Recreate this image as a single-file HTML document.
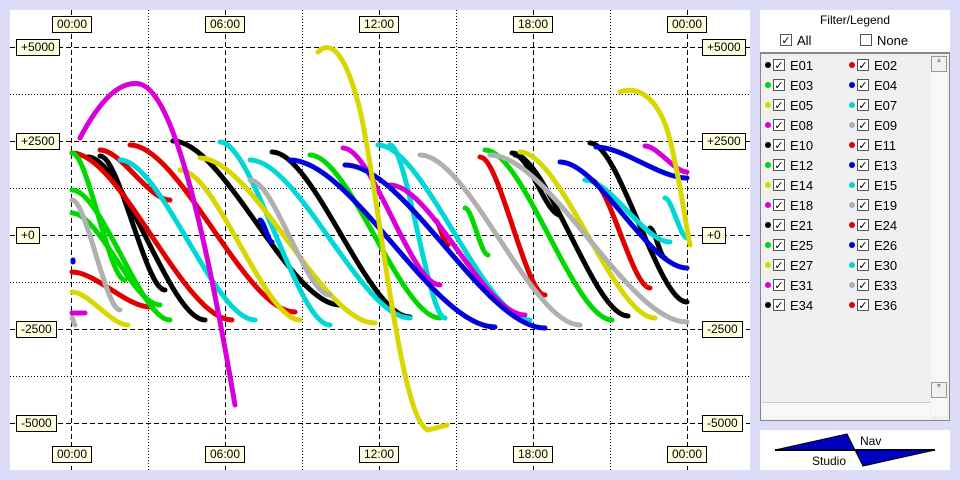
<!DOCTYPE html>
<html><head><meta charset="utf-8"><style>
body{margin:0;width:960px;height:480px;background:#dcdcf8;font-family:"Liberation Sans",sans-serif;overflow:hidden;position:relative}
.lbl{position:absolute;background:#ffffe0;border:1px solid #000;font-size:12px;line-height:15px;padding:0 4px;color:#000}
#legend{position:absolute;left:760px;top:10px;width:190px;height:410px;background:#fff}
#list{position:absolute;left:0;top:42px;width:188px;height:366px;background:#f0f0f0;border:1px solid #888;border-top:2px solid #888}
.it{position:absolute;font-size:13px;height:18px;display:flex;align-items:center;white-space:nowrap}
.dot{display:inline-block;width:6px;height:6px;border-radius:3px;margin-right:2px}
.cb{display:inline-block;width:12px;height:12px;border:1px solid #555;background:#fff;font-size:11px;line-height:12px;text-align:center;margin-right:5px;box-sizing:border-box}
</style></head><body>
<svg width="960" height="480" style="position:absolute;left:0;top:0">
<rect x="10" y="10" width="740" height="460" fill="#fff"/>
<rect x="760" y="430" width="190" height="40" fill="#fff"/>
<g stroke="#000" stroke-width="1" fill="none" shape-rendering="crispEdges">
<g stroke-dasharray="1,2">
<line x1="148.5" y1="10" x2="148.5" y2="470"/><line x1="302.5" y1="10" x2="302.5" y2="470"/><line x1="456.5" y1="10" x2="456.5" y2="470"/><line x1="610.5" y1="10" x2="610.5" y2="470"/>
<line x1="10" y1="94.5" x2="750" y2="94.5"/><line x1="10" y1="188.5" x2="750" y2="188.5"/><line x1="10" y1="282.5" x2="750" y2="282.5"/><line x1="10" y1="376.5" x2="750" y2="376.5"/>
</g>
<g stroke-dasharray="5,3">
<line x1="71.5" y1="10" x2="71.5" y2="470"/><line x1="225.5" y1="10" x2="225.5" y2="470"/><line x1="379.5" y1="10" x2="379.5" y2="470"/><line x1="533.5" y1="10" x2="533.5" y2="470"/><line x1="687.5" y1="10" x2="687.5" y2="470"/>
<line x1="10" y1="47.5" x2="750" y2="47.5"/><line x1="10" y1="141.5" x2="750" y2="141.5"/><line x1="10" y1="235.5" x2="750" y2="235.5"/><line x1="10" y1="329.5" x2="750" y2="329.5"/><line x1="10" y1="423.5" x2="750" y2="423.5"/>
</g></g>
<g id="curves" fill="none" stroke-width="5" stroke-linecap="round"></g>
<line x1="775" y1="450" x2="935" y2="450" stroke="#000" stroke-width="2"/>
<polygon points="775,450 847,434 855,450" fill="#0000c0" stroke="#000"/>
<polygon points="855,450 935,450 863,466" fill="#0000c0" stroke="#000"/>
</svg>
<div style="position:absolute;left:860px;top:434px;font-size:12px">Nav</div>
<div style="position:absolute;left:812px;top:454px;font-size:12px">Studio</div>
<div class="lbl" style="left:52px;top:16px">00:00</div>
<div class="lbl" style="left:205px;top:16px">06:00</div>
<div class="lbl" style="left:359px;top:16px">12:00</div>
<div class="lbl" style="left:513px;top:16px">18:00</div>
<div class="lbl" style="left:667px;top:16px">00:00</div>
<div class="lbl" style="left:52px;top:446px">00:00</div>
<div class="lbl" style="left:205px;top:446px">06:00</div>
<div class="lbl" style="left:359px;top:446px">12:00</div>
<div class="lbl" style="left:513px;top:446px">18:00</div>
<div class="lbl" style="left:667px;top:446px">00:00</div>
<div class="lbl" style="left:16px;top:39px">+5000</div><div class="lbl" style="left:16px;top:133px">+2500</div><div class="lbl" style="left:16px;top:227px">+0</div><div class="lbl" style="left:16px;top:321px">-2500</div><div class="lbl" style="left:16px;top:415px">-5000</div>
<div class="lbl" style="left:702px;top:39px">+5000</div><div class="lbl" style="left:702px;top:133px">+2500</div><div class="lbl" style="left:702px;top:227px">+0</div><div class="lbl" style="left:702px;top:321px">-2500</div><div class="lbl" style="left:702px;top:415px">-5000</div>
<div id="legend">
<div style="position:absolute;top:3px;width:100%;text-align:center;font-size:12px">Filter/Legend</div>
<div class="it" style="left:20px;top:21px"><span class="cb">✓</span>All</div>
<div class="it" style="left:100px;top:21px"><span class="cb"></span>None</div>
<div id="list">
<div style="position:absolute;right:2px;top:2px;width:16px;height:360px;background:#f8f8f8"></div>
<div style="position:absolute;right:2px;top:2px;width:14px;height:14px;border:1px solid #999;background:#f0f0f0;font-size:7px;text-align:center;color:#999">▲</div>
<div style="position:absolute;right:2px;top:328px;width:14px;height:14px;border:1px solid #999;background:#f0f0f0;font-size:7px;text-align:center;color:#999">▼</div>
<div style="position:absolute;left:1px;top:348px;width:168px;height:16px;background:#f8f8f8;border-top:1px solid #ccc"></div>
</div>
</div>
<script>
var C={k:"#000",r:"#e00000",g:"#00d800",b:"#0000d8",c:"#00d8d8",y:"#d8d800",m:"#d800d8",a:"#b0b0b0"};
var segs=[
["k",88,157,205,320],["k",100,156,165,290],["k",173,141,340,305],["k",272,152,410,317],["k",512,153,628,316],["k",590,143,687,302],["k",515,155,560,215],["k",650,228,665,258],
["r",72,153,232,320],["r",130,145,295,312],["r",72,272,150,307],["r",480,157,545,295],["r",591,180,650,288],["r",435,220,448,245],["r",100,150,170,200],
["g",72,190,170,320],["g",72,213,160,305],["g",310,155,440,318],["g",485,150,612,320],["g",72,153,125,280],["g",465,208,488,255],
["c",220,142,330,325],["c",120,160,255,320],["c",390,145,445,318],["c",585,180,670,242],["c",378,145,530,320],["c",250,160,410,318],["c",665,198,687,238],
["y",72,292,128,325],["y",200,158,375,323],["y",520,152,655,318],["y",180,170,300,320],
["m",390,185,525,315],["m",343,148,440,285],["m",645,146,687,172],["m",72,313,85,313],
["b",290,160,495,327],["b",345,165,545,328],["b",560,162,687,268],["b",260,220,272,242],["b",596,147,687,178],
["a",72,200,120,310],["a",420,155,580,325],["a",490,155,687,322],["a",250,180,330,295],["a",72,318,75,325]];
var g=document.getElementById("curves"),s="";
segs.forEach(function(t){var dx=t[3]-t[1];s+='<path stroke="'+C[t[0]]+'" d="M'+t[1]+','+t[2]+' C'+(t[1]+0.3*dx)+','+t[2]+' '+(t[3]-0.3*dx)+','+t[4]+' '+t[3]+','+t[4]+'"/>';});
s+='<path stroke="#d8d800" d="M318,52 C330,40 345,50 360,110 C380,200 400,420 428,430 L447,425"/>';
s+='<path stroke="#d800d8" d="M80,138 C100,100 120,80 140,84 C170,92 200,200 235,405"/>';
s+='<path stroke="#d8d800" d="M620,92 C640,85 660,100 670,140 C680,180 685,220 690,245"/>';
s+='<path stroke="#0000d8" d="M73,260 L73,262"/>';
g.innerHTML=s;
var L=[["k","E01"],["r","E02"],["g","E03"],["b","E04"],["y","E05"],["c","E07"],["m","E08"],["a","E09"],["k","E10"],["r","E11"],["g","E12"],["b","E13"],["y","E14"],["c","E15"],["m","E18"],["a","E19"],["k","E21"],["r","E24"],["g","E25"],["b","E26"],["y","E27"],["c","E30"],["m","E31"],["a","E33"],["k","E34"],["r","E36"]];
var h="";L.forEach(function(e,i){h+='<div class="it" style="left:'+(i%2?88:4)+'px;top:'+(2+Math.floor(i/2)*20)+'px"><span class="dot" style="background:'+C[e[0]]+'"></span><span class="cb">✓</span>'+e[1]+'</div>';});
document.getElementById("list").insertAdjacentHTML("beforeend",h);
</script>
</body></html>
